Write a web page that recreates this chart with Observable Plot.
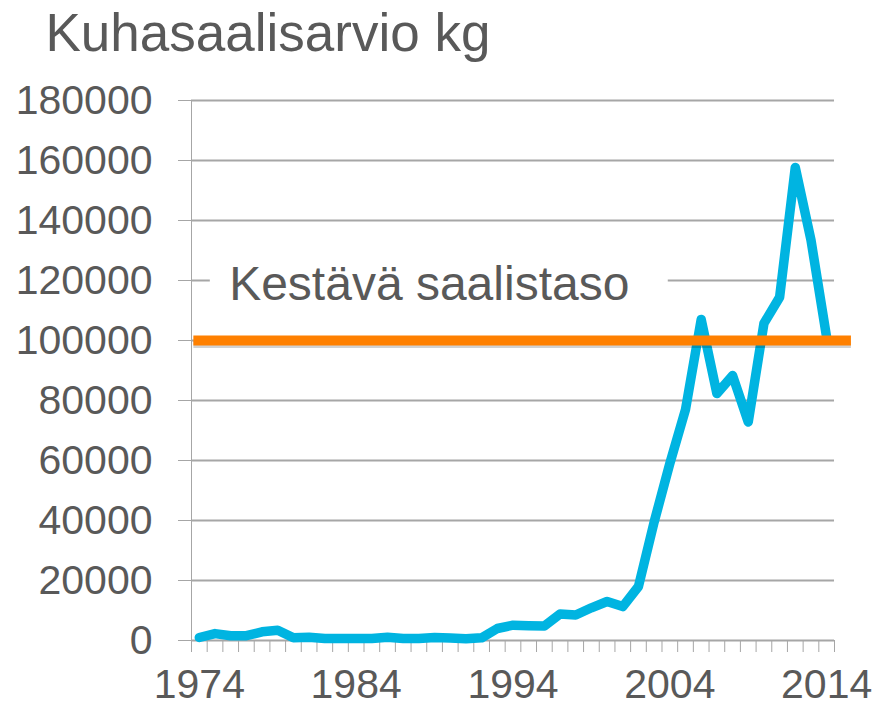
<!DOCTYPE html>
<html><head><meta charset="utf-8">
<script src="https://cdn.jsdelivr.net/npm/d3@7"></script>
<script src="https://cdn.jsdelivr.net/npm/@observablehq/plot@0.6"></script>
<style>
html,body{margin:0;padding:0;background:#fff;}
#chart svg text{fill:#595959;}
</style></head><body><div id="chart"></div>
<script>
const title = "Kuhasaalisarvio kg";
const years = [1974,1975,1976,1977,1978,1979,1980,1981,1982,1983,
  1984,1985,1986,1987,1988,1989,1990,1991,1992,1993,
  1994,1995,1996,1997,1998,1999,2000,2001,2002,2003,
  2004,2005,2006,2007,2008,2009,2010,2011,2012,2013,2014];
const catchKg = [1000,2300,1600,1600,2900,3400,900,1100,700,700,
  700,700,1100,700,700,1000,800,600,900,4000,
  5100,4900,4800,8800,8500,10900,13000,11300,18000,39500,
  59000,77000,107000,82300,88300,72800,105700,114400,157700,133500,101000];
const yTicks = [0,20000,40000,60000,80000,100000,120000,140000,160000,180000];
const xLabels = [1974,1984,1994,2004,2014];
const sustainableLabel = "Kestävä saalistaso";
const sustainableLevel = 100000;
const sustainableFrom = 1973.65;
const sustainableTo = 2015.58;
const labelYear = 1975.9;
const labelKg = 118500;
const labelBox = {x1: 1974.7, x2: 2003.9, y1: 110000, y2: 127000};

const rows = years.map((y, i) => ({year: y, kg: catchKg[i]}));
const bounds = years.map(y => y - 0.5).concat([years[years.length - 1] + 0.5]);
const gridColor = "#A6A6A6";

const chart = Plot.plot({
  width: 876,
  height: 707,
  marginLeft: 191,
  marginRight: 42,
  marginTop: 100,
  marginBottom: 67,
  style: {fontFamily: "'Liberation Sans', Arial, sans-serif", fontSize: "41px", color: gridColor, background: "#fff"},
  x: {type: "linear", domain: [bounds[0], bounds[bounds.length - 1]], ticks: bounds, tickSize: 12, tickFormat: () => "", label: null},
  y: {domain: [0, 180000], ticks: yTicks, tickSize: 13, tickPadding: 26, tickFormat: d => String(d), label: null, line: true},
  marks: [
    Plot.ruleY(yTicks, {stroke: gridColor, strokeWidth: 1.8}),
    Plot.rect([labelBox], {x1: "x1", x2: "x2", y1: "y1", y2: "y2", fill: "#fff"}),
    Plot.text([sustainableLabel], {x: () => labelYear, y: () => labelKg, text: d => d, textAnchor: "start", lineAnchor: "middle", fontSize: 48, fill: "#595959"}),
    Plot.text(xLabels, {x: d => d, text: d => String(d), frameAnchor: "bottom", lineAnchor: "top", dy: 28, fontSize: 41, fill: "#595959"}),
    Plot.text([title], {text: d => d, frameAnchor: "top-left", textAnchor: "start", lineAnchor: "top", dx: -146, dy: -87, fontSize: 53, fill: "#595959"}),
    Plot.line(rows, {x: "year", y: "kg", stroke: "#00B4E1", strokeWidth: 9.5, strokeLinejoin: "round", strokeLinecap: "round"}),
    Plot.ruleY([sustainableLevel], {x1: () => sustainableFrom, x2: () => sustainableTo, stroke: "#000", strokeOpacity: 0.18, strokeWidth: 7, dy: 4}),
    Plot.ruleY([sustainableLevel], {x1: () => sustainableFrom, x2: () => sustainableTo, stroke: "#FF8000", strokeWidth: 10})
  ]
});
document.getElementById("chart").appendChild(chart);
</script></body></html>
